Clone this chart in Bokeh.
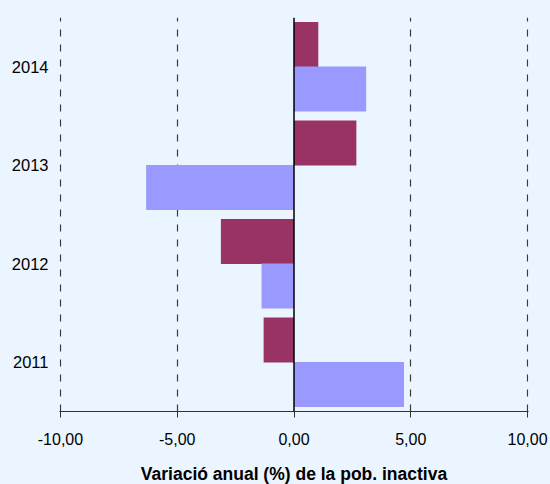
from bokeh.plotting import figure
from bokeh.models import (ColumnDataSource, FactorRange, Range1d, FixedTicker, Span,
                          GlobalInlineStyleSheet)
from bokeh.transform import dodge
from bokeh.embed import file_html
from bokeh.resources import INLINE

years = ["2011", "2012", "2013", "2014"]
series_a = [-1.30, -3.13, 2.67, 1.04]   # maroon (upper bar)
series_b = [4.71, -1.39, -6.33, 3.09]   # blue (lower bar)
x_ticks = [-10, -5, 0, 5, 10]
x_tick_labels = ["-10,00", "-5,00", "0,00", "5,00", "10,00"]
x_title = "Variació anual (%) de la pob. inactiva"

BG = "#EBF5FF"
FONT = "Liberation Sans"

src = ColumnDataSource(dict(year=years, a=series_a, b=series_b))

p = figure(frame_width=469, frame_height=394, output_backend="svg", toolbar_location=None,
           y_range=FactorRange(*years), x_range=Range1d(-10.04, 10.04),
           min_border_left=59, min_border_right=21, min_border_top=17, min_border_bottom=60)
p.background_fill_color = BG
p.border_fill_color = BG
p.outline_line_color = None

p.hbar(y=dodge("year", 0.226, range=p.y_range), left=0, right="a", height=0.455,
       source=src, fill_color="#993366", line_color=None)
p.hbar(y=dodge("year", -0.226, range=p.y_range), left=0, right="b", height=0.455,
       source=src, fill_color="#9999FF", line_color=None)

p.add_layout(Span(location=0, dimension="height", line_color="black", line_width=1.5))

p.xgrid.ticker = FixedTicker(ticks=[t for t in x_ticks if t != 0])
p.xgrid.grid_line_color = "#3a3a3a"
p.xgrid.grid_line_dash = "7 8"
p.xgrid.grid_line_width = 1.2
p.ygrid.grid_line_color = None

xa = p.xaxis[0]
xa.ticker = FixedTicker(ticks=x_ticks)
xa.major_label_overrides = {t: l for t, l in zip(x_ticks, x_tick_labels)}
xa.minor_tick_line_color = None
xa.major_tick_out = 6
xa.major_tick_in = 0
xa.axis_line_color = "#333333"
xa.major_tick_line_color = "#333333"
xa.major_label_text_font = FONT
xa.major_label_text_font_size = "16px"
xa.major_label_text_color = "black"
xa.major_label_standoff = 15
xa.axis_label = x_title
xa.axis_label_text_font = FONT
xa.axis_label_text_font_size = "17.5px"
xa.axis_label_text_font_style = "bold"
xa.axis_label_text_color = "black"
xa.axis_label_standoff = 16

ya = p.yaxis[0]
ya.axis_line_color = None
ya.major_tick_line_color = None
ya.minor_tick_line_color = None
ya.major_label_text_font = FONT
ya.major_label_text_font_size = "16.5px"
ya.major_label_text_color = "black"
ya.major_label_standoff = 5

p.stylesheets = [GlobalInlineStyleSheet(
    css="html, body { background: %s; margin: 0; padding: 0; overflow: hidden; }" % BG)]

open("out.html", "w").write(file_html(p, INLINE))
